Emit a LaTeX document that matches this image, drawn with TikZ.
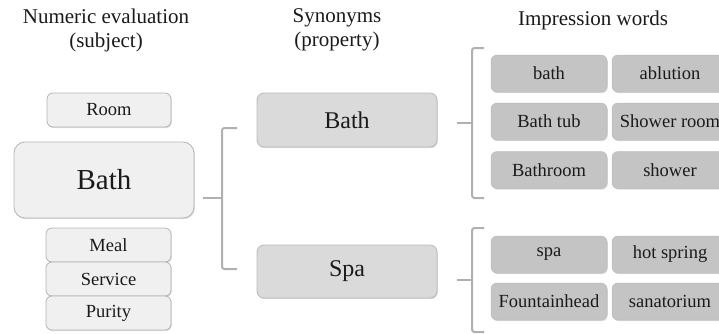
\documentclass[tikz,border=0pt]{standalone}
\usepackage{fontspec}
\setmainfont{Liberation Serif}
\usetikzlibrary{shadows}
\definecolor{lightbox}{HTML}{F0F0F0}
\definecolor{lightedge}{HTML}{B4B4B4}
\definecolor{midbox}{HTML}{DADADA}
\definecolor{midedge}{HTML}{B8B8B8}
\definecolor{darkbox}{HTML}{C4C4C4}
\definecolor{darkedge}{HTML}{BBBBBB}
\definecolor{brk}{HTML}{B0B0B0}
\definecolor{txt}{HTML}{1A1A1A}
\tikzset{
  basebox/.style={rectangle, inner sep=0pt, text=txt,
    drop shadow={shadow xshift=0.8pt, shadow yshift=-1.2pt, fill=black!22, opacity=0.6}},
  subj/.style={basebox, fill=lightbox, draw=lightedge, line width=0.8pt,
    rounded corners=6pt, minimum width=124pt, minimum height=34pt,
    font=\fontsize{18.5}{20}\selectfont},
  bigsubj/.style={subj, rounded corners=11pt, minimum width=180pt, minimum height=76pt,
    font=\fontsize{29}{32}\selectfont},
  syn/.style={basebox, fill=midbox, draw=midedge, line width=0.8pt,
    rounded corners=7pt, minimum width=180pt, minimum height=54pt,
    font=\fontsize{24}{26}\selectfont},
  imp/.style={basebox, fill=darkbox, draw=darkedge, line width=0.5pt,
    rounded corners=6pt, minimum width=116pt, minimum height=37pt,
    font=\fontsize{18.5}{20}\selectfont},
  title/.style={align=center, text=txt, font=\fontsize{21}{24}\selectfont, inner sep=0pt},
  bracket/.style={draw=brk, line width=2pt, rounded corners=2.5pt},
  stem/.style={draw=brk, line width=2pt}
}
\begin{document}
\begin{tikzpicture}[x=1pt,y=-1pt]
\useasboundingbox (0,0) rectangle (719,333);
\clip (0,0) rectangle (719,333);
% titles
\node[title] (t1) at (106,30) {Numeric evaluation\\(subject)};
\node[title] (t2) at (337,30) {Synonyms\\(property)};
\node[title] (t3) at (593,20) {Impression words};
% subject column
\node[subj] (room) at (109,110) {Room};
\node[bigsubj] (bath) at (104,180) {Bath};
\node[subj, minimum width=125pt] (meal) at (108.5,245) {Meal};
\node[subj, minimum width=125pt] (service) at (108.5,279) {Service};
\node[subj, minimum width=125pt] (purity) at (108.5,313) {Purity};
% synonyms
\node[syn] (sbath) at (347,120) {Bath};
\node[syn, minimum height=53pt] (sspa) at (347,271.5) {Spa};
% impression words
\node[imp] (i1) at (549,73.5) {bath};
\node[imp] (i2) at (670,73.5) {ablution};
\node[imp] (i3) at (549,121.5) {Bath tub};
\node[imp] (i4) at (670,121.5) {Shower room};
\node[imp] (i5) at (549,170) {Bathroom};
\node[imp] (i6) at (670,170) {shower};
\node[imp] (i7) at (549,254.5) {spa};
\node[imp] (i8) at (670,254.5) {hot spring};
\node[imp] (i9) at (549,301.5) {Fountainhead};
\node[imp] (i10) at (670,301.5) {sanatorium};
% bracket 1: subject Bath -> synonyms
\coordinate (b1s) at (203,198);
\coordinate (b1m) at (222,198);
\coordinate (b1t) at (237,128);
\coordinate (b1b) at (237,269);
\draw[bracket] (b1t) -| (b1m) |- (b1b);
\draw[stem] (b1s) -- (b1m);
% bracket 2: synonym Bath -> impression words
\coordinate (b2s) at (457,123);
\coordinate (b2m) at (472,123);
\coordinate (b2t) at (484,48);
\coordinate (b2b) at (484,198);
\draw[bracket] (b2t) -| (b2m) |- (b2b);
\draw[stem] (b2s) -- (b2m);
% bracket 3: Spa -> impression words
\coordinate (b3s) at (457,280);
\coordinate (b3m) at (472,280);
\coordinate (b3t) at (484,228);
\coordinate (b3b) at (484,332);
\draw[bracket] (b3t) -| (b3m) |- (b3b);
\draw[stem] (b3s) -- (b3m);
\end{tikzpicture}
\end{document}
